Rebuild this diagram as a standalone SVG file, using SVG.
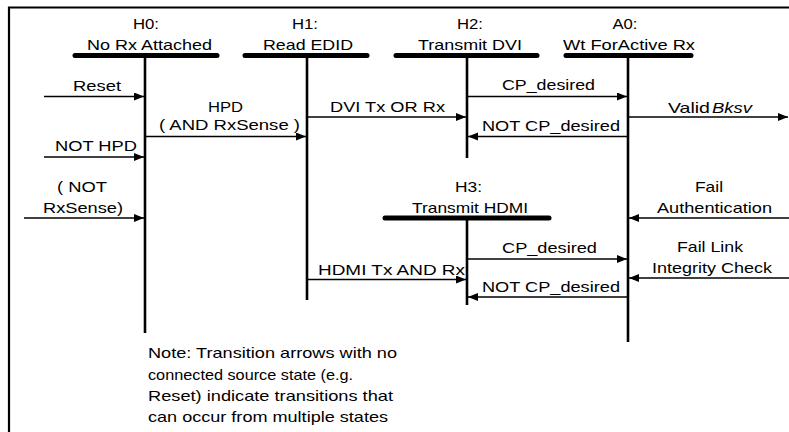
<svg xmlns="http://www.w3.org/2000/svg" width="789" height="432" viewBox="0 0 789 432">
<style>
text{font-family:"Liberation Sans",Arial,sans-serif;font-size:15px;fill:#000}
.c{text-anchor:middle}
.bar{stroke:#000;stroke-width:5;stroke-linecap:round;fill:none}
.life{stroke:#000;stroke-width:2.6;fill:none}
.arr{stroke:#000;stroke-width:1.3;fill:none;marker-end:url(#ah)}
.ln{stroke:#000;stroke-width:1.3;fill:none}
.frame{stroke:#000;stroke-width:2.2;fill:none}
</style>
<defs>
<marker id="ah" markerUnits="userSpaceOnUse" markerWidth="12" markerHeight="10" refX="10" refY="4" orient="auto">
<path d="M0,0 L10,4 L0,8 Z" fill="#000"/>
</marker>
</defs>
<rect width="789" height="432" fill="#fff"/>
<path class="frame" d="M9,432 V7.5 H789"/>

<g id="H0">
<text class="c" x="146" y="29" textLength="26" lengthAdjust="spacingAndGlyphs">H0:</text>
<text class="c" x="149.5" y="50" textLength="125" lengthAdjust="spacingAndGlyphs">No Rx Attached</text>
<line class="bar" x1="75" y1="55.5" x2="217" y2="55.5"/>
<line class="life" x1="145" y1="55.5" x2="145" y2="333"/>
</g>
<g id="H1">
<text class="c" x="305" y="29" textLength="26" lengthAdjust="spacingAndGlyphs">H1:</text>
<text class="c" x="308" y="50" textLength="90" lengthAdjust="spacingAndGlyphs">Read EDID</text>
<line class="bar" x1="245" y1="55.5" x2="367" y2="55.5"/>
<line class="life" x1="307" y1="55.5" x2="307" y2="300"/>
</g>
<g id="H2">
<text class="c" x="470" y="29" textLength="26" lengthAdjust="spacingAndGlyphs">H2:</text>
<text class="c" x="470" y="50" textLength="104" lengthAdjust="spacingAndGlyphs">Transmit DVI</text>
<line class="bar" x1="396" y1="55.5" x2="537" y2="55.5"/>
<line class="life" x1="467" y1="55.5" x2="467" y2="158"/>
</g>
<g id="A0">
<text class="c" x="625" y="29" textLength="25" lengthAdjust="spacingAndGlyphs">A0:</text>
<text class="c" x="629" y="50" textLength="132" lengthAdjust="spacingAndGlyphs">Wt ForActive Rx</text>
<line class="bar" x1="566" y1="55.5" x2="691" y2="55.5"/>
<line class="life" x1="628" y1="55.5" x2="628" y2="342"/>
</g>
<g id="H3">
<text class="c" x="468.5" y="192" textLength="27" lengthAdjust="spacingAndGlyphs">H3:</text>
<text class="c" x="470" y="213" textLength="116" lengthAdjust="spacingAndGlyphs">Transmit HDMI</text>
<line class="bar" x1="385" y1="218" x2="549" y2="218"/>
<line class="life" x1="467" y1="218" x2="467" y2="305"/>
</g>

<g id="connectors">
<line class="arr" x1="44" y1="96.5" x2="144" y2="96.5"/>
<line class="arr" x1="146" y1="136.5" x2="306" y2="136.5"/>
<line class="arr" x1="44" y1="157" x2="144" y2="157"/>
<line class="arr" x1="24" y1="218" x2="144" y2="218"/>
<line class="arr" x1="308" y1="117" x2="466" y2="117"/>
<line class="arr" x1="468" y1="96.5" x2="627" y2="96.5"/>
<line class="arr" x1="627" y1="136.5" x2="468" y2="136.5"/>
<line class="arr" x1="629" y1="117" x2="788" y2="117"/>
<line class="arr" x1="789" y1="218" x2="629" y2="218"/>
<line class="arr" x1="468" y1="259" x2="627" y2="259"/>
<line class="arr" x1="789" y1="278" x2="629" y2="278"/>
<line class="arr" x1="308" y1="279.5" x2="466" y2="279.5"/>
<line class="arr" x1="627" y1="297" x2="468" y2="297"/>
</g>

<g id="labels">
<text x="73" y="91" textLength="48" lengthAdjust="spacingAndGlyphs">Reset</text>
<text class="c" x="225.5" y="112" textLength="35" lengthAdjust="spacingAndGlyphs">HPD</text>
<text class="c" x="229.5" y="130" textLength="141" lengthAdjust="spacingAndGlyphs">( AND RxSense )</text>
<text x="55" y="151" textLength="82" lengthAdjust="spacingAndGlyphs">NOT HPD</text>
<text class="c" x="82" y="192" textLength="50" lengthAdjust="spacingAndGlyphs">( NOT</text>
<text class="c" x="83" y="213" textLength="80" lengthAdjust="spacingAndGlyphs">RxSense)</text>
<text x="330" y="112" textLength="115" lengthAdjust="spacingAndGlyphs">DVI Tx OR Rx</text>
<text x="502" y="90" textLength="93" lengthAdjust="spacingAndGlyphs">CP_desired</text>
<text x="482" y="131" textLength="138" lengthAdjust="spacingAndGlyphs">NOT CP_desired</text>
<text x="668" y="113" textLength="42" lengthAdjust="spacingAndGlyphs">Valid</text>
<text x="712" y="113" textLength="40" lengthAdjust="spacingAndGlyphs" font-style="italic">Bksv</text>
<text class="c" x="709" y="192" textLength="28" lengthAdjust="spacingAndGlyphs">Fail</text>
<text class="c" x="714.5" y="213" textLength="115" lengthAdjust="spacingAndGlyphs">Authentication</text>
<text x="502" y="253" textLength="95" lengthAdjust="spacingAndGlyphs">CP_desired</text>
<text class="c" x="710" y="252" textLength="66" lengthAdjust="spacingAndGlyphs">Fail Link</text>
<text class="c" x="712" y="273" textLength="120" lengthAdjust="spacingAndGlyphs">Integrity Check</text>
<text x="318" y="275" textLength="147" lengthAdjust="spacingAndGlyphs">HDMI Tx AND Rx</text>
<text x="482" y="292" textLength="138" lengthAdjust="spacingAndGlyphs">NOT CP_desired</text>
<text x="148" y="358" textLength="249" lengthAdjust="spacingAndGlyphs">Note: Transition arrows with no</text>
<text x="148" y="380" textLength="205" lengthAdjust="spacingAndGlyphs">connected source state (e.g.</text>
<text x="148" y="401" textLength="245" lengthAdjust="spacingAndGlyphs">Reset) indicate transitions that</text>
<text x="148" y="422" textLength="240" lengthAdjust="spacingAndGlyphs">can occur from multiple states</text>
</g>
</svg>
